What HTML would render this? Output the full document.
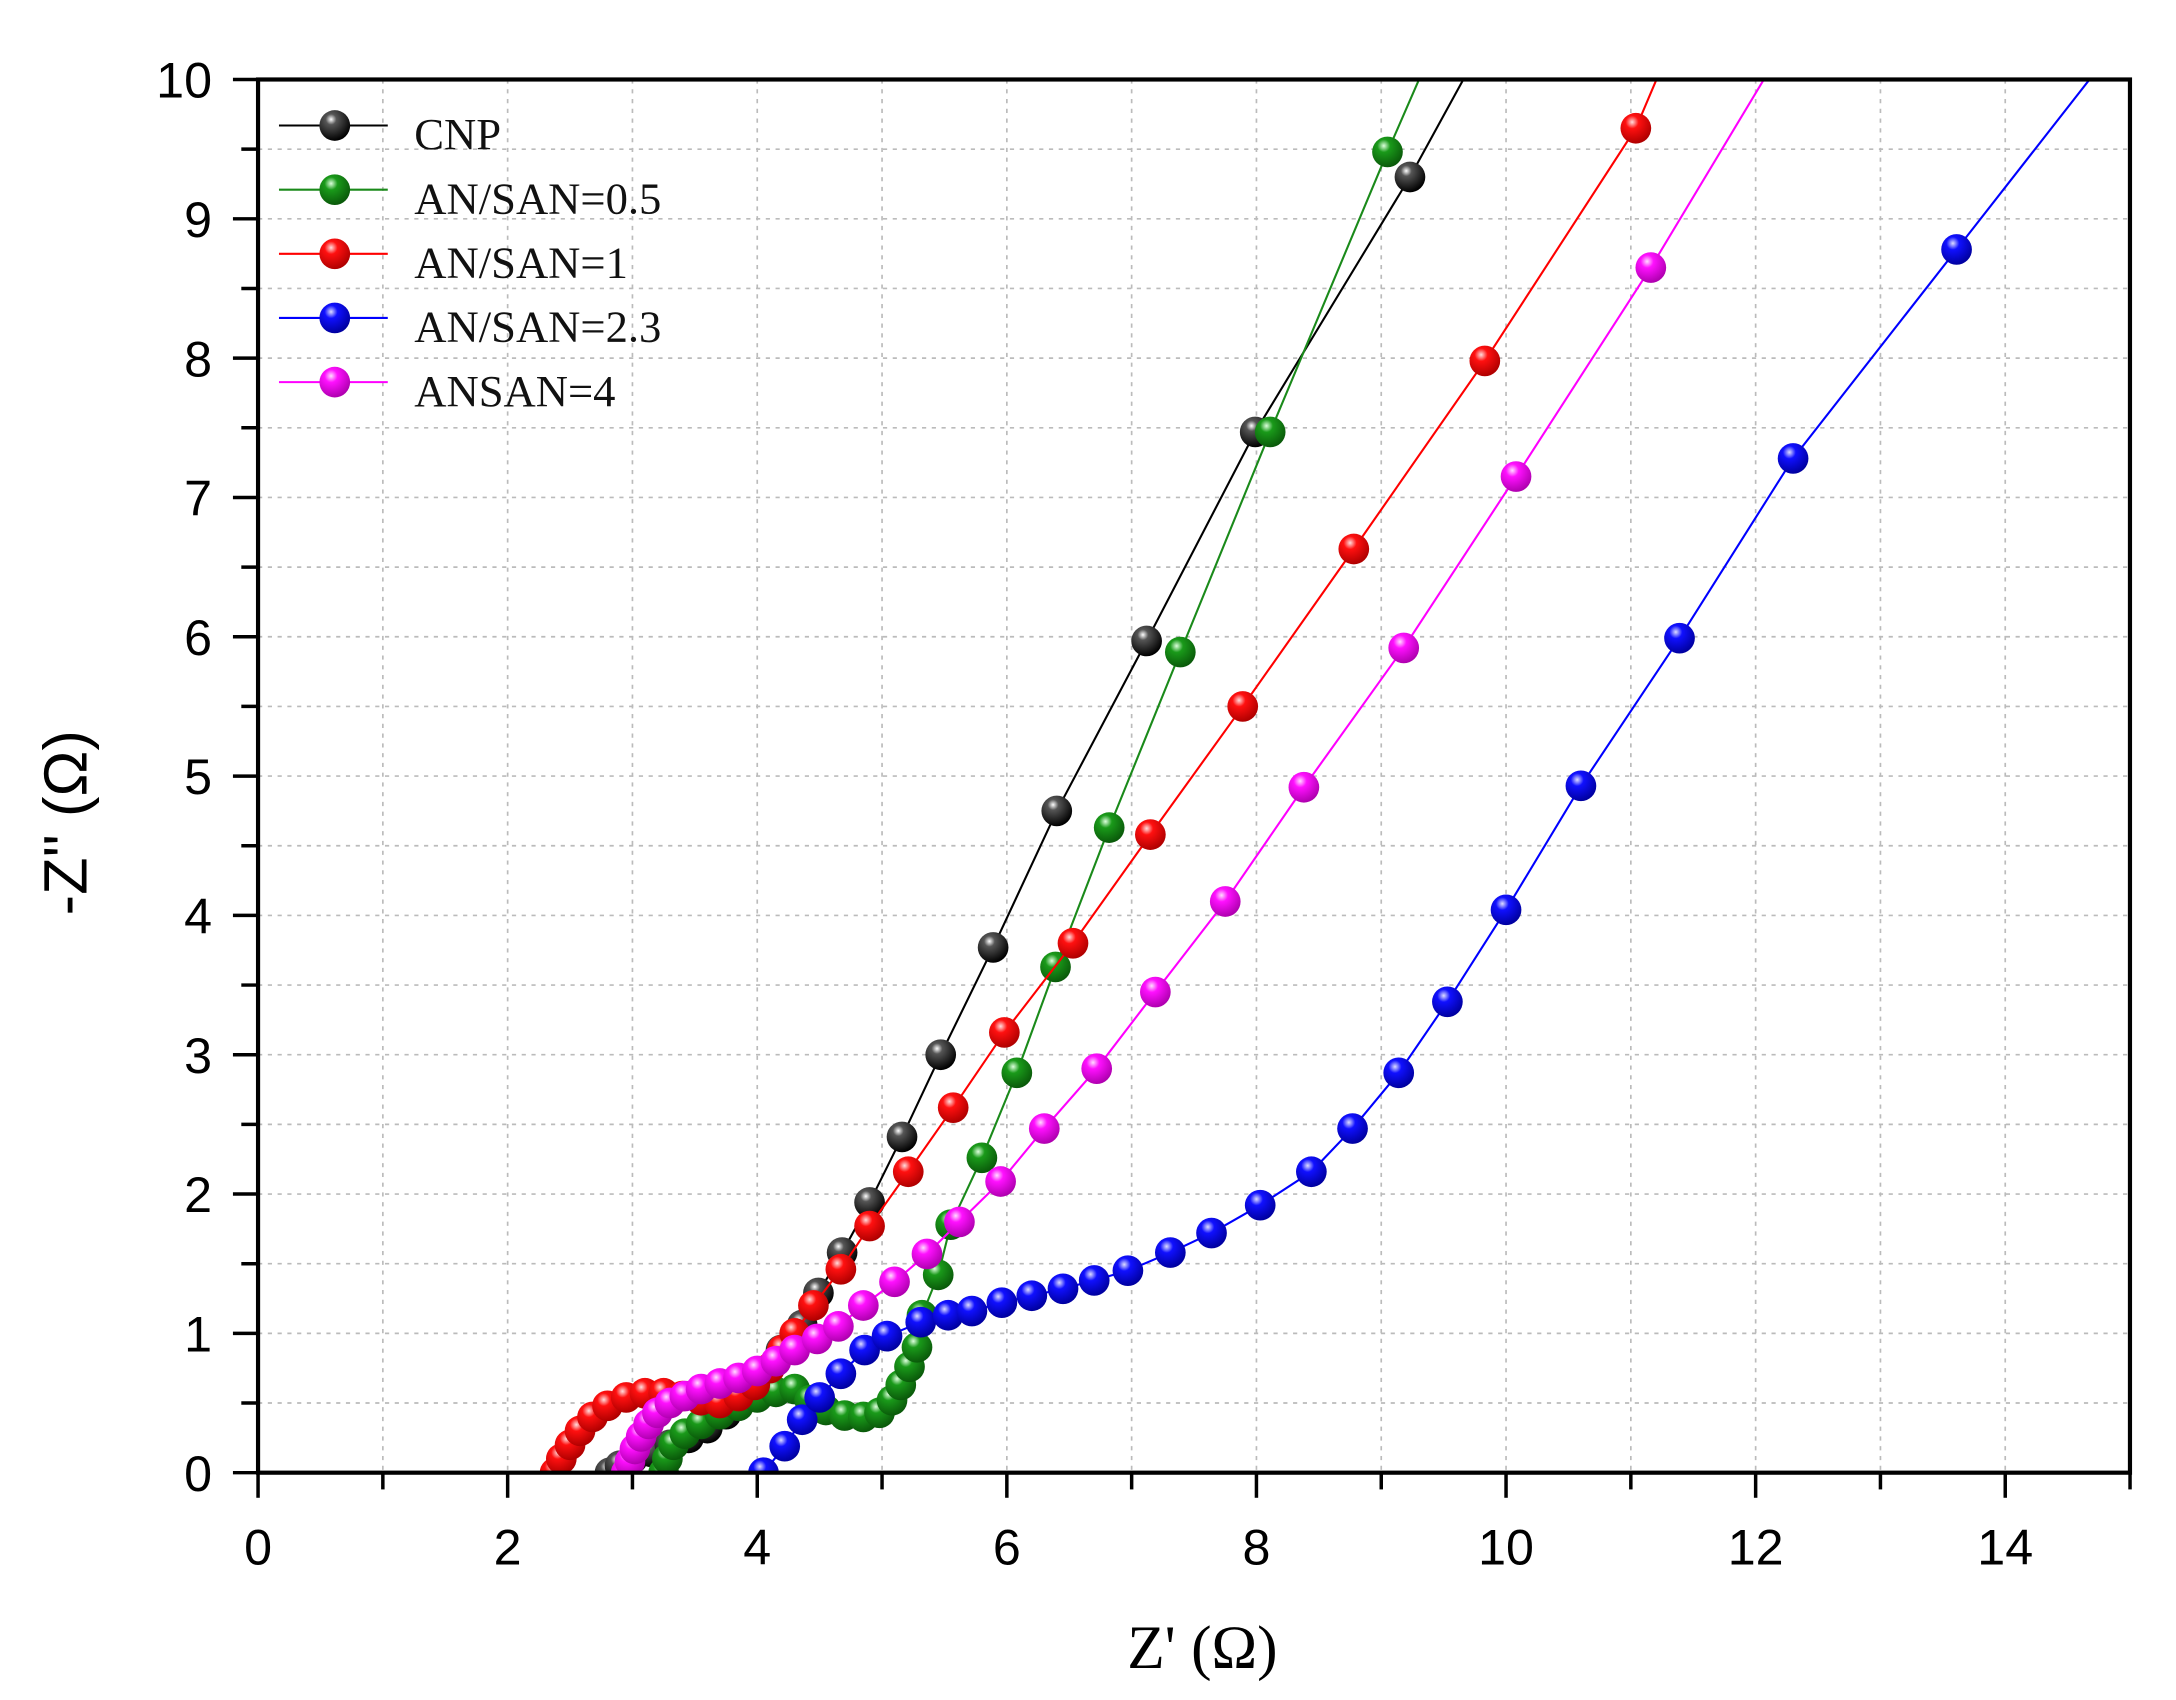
<!DOCTYPE html>
<html><head><meta charset="utf-8"><style>
html,body{margin:0;padding:0;background:#fff;}
svg{display:block;}
</style></head><body>
<svg id="s" width="2176" height="1700" viewBox="0 0 1560 1219" preserveAspectRatio="none" xmlns="http://www.w3.org/2000/svg">
<defs>
<radialGradient id="gk" cx="0.38" cy="0.3" r="0.7"><stop offset="0" stop-color="#fff"/><stop offset="0.25" stop-color="#555"/><stop offset="1" stop-color="#000"/></radialGradient>
<radialGradient id="gg" cx="0.38" cy="0.3" r="0.7"><stop offset="0" stop-color="#dfd"/><stop offset="0.3" stop-color="#1a9a1a"/><stop offset="1" stop-color="#0a5a0a"/></radialGradient>
<radialGradient id="gr" cx="0.38" cy="0.3" r="0.7"><stop offset="0" stop-color="#fdd"/><stop offset="0.3" stop-color="#ff1010"/><stop offset="1" stop-color="#b00000"/></radialGradient>
<radialGradient id="gb" cx="0.38" cy="0.3" r="0.7"><stop offset="0" stop-color="#ddf"/><stop offset="0.3" stop-color="#1010ff"/><stop offset="1" stop-color="#0000a0"/></radialGradient>
<radialGradient id="gm" cx="0.38" cy="0.3" r="0.7"><stop offset="0" stop-color="#fdf"/><stop offset="0.3" stop-color="#ff10ff"/><stop offset="1" stop-color="#b000b0"/></radialGradient>
<clipPath id="cp"><rect x="185" y="57" width="1342" height="999"/></clipPath>
</defs>
<g id="grid" stroke="#bbb" stroke-width="1.2" stroke-dasharray="3,4"></g>
<g id="data" clip-path="url(#cp)"></g>
<g id="axes" stroke="#000" fill="none"></g>
<g id="lbl" font-family="Liberation Sans, sans-serif" font-size="36" fill="#000"></g>
<text x="62" y="590" transform="rotate(-90 62 590)" text-anchor="middle" font-family="Liberation Sans, sans-serif" font-size="44">-Z'' (Ω)</text>
<text x="862" y="1196" text-anchor="middle" font-family="Liberation Serif, serif" font-size="44">Z' (Ω)</text>
<g id="leg" font-family="Liberation Serif, serif" font-size="32" fill="#111"></g>
</svg>
<script>
const NS="http://www.w3.org/2000/svg";
const X=v=>185+v*89.47, Y=v=>1056-v*99.9;
function el(p,t,a,txt){const e=document.createElementNS(NS,t);for(const k in a)e.setAttribute(k,a[k]);if(txt!==undefined)e.textContent=txt;p.appendChild(e);return e;}
const grid=document.getElementById('grid'),axes=document.getElementById('axes'),lbl=document.getElementById('lbl'),data=document.getElementById('data'),leg=document.getElementById('leg');
for(let i=1;i<15;i++)el(grid,'line',{x1:X(i),x2:X(i),y1:57,y2:1056});
for(let j=1;j<20;j++)el(grid,'line',{x1:185,x2:1527,y1:Y(j/2),y2:Y(j/2)});
el(axes,'rect',{x:185,y:57,width:1342,height:999,'stroke-width':3});
for(let i=0;i<=15;i++){el(axes,'line',{x1:X(i),x2:X(i),y1:1056,y2:i%2==0?1074:1068,'stroke-width':2.5});
 if(i%2==0)el(lbl,'text',{x:X(i),y:1122,'text-anchor':'middle'},i);}
for(let j=0;j<=20;j++){const v=j/2;el(axes,'line',{x1:185,x2:j%2==0?167:173,y1:Y(v),y2:Y(v),'stroke-width':2.5});
 if(j%2==0)el(lbl,'text',{x:152,y:Y(v)+13,'text-anchor':'end'},v);}
const S=[
['#000','gk',[[2.82,0],[2.9,0.05],[3.0,0.1],[3.15,0.15],[3.3,0.2],[3.45,0.25],[3.6,0.32],[3.75,0.42],[3.9,0.55],[4.05,0.7],[4.19,0.88],[4.36,1.06],[4.49,1.29],[4.68,1.58],[4.9,1.94],[5.16,2.41],[5.47,3.0],[5.89,3.77],[6.4,4.75],[7.12,5.97],[7.99,7.47],[9.23,9.3],[9.78,10.2]]],
['#1a8a1a','gg',[[3.25,0],[3.28,0.1],[3.33,0.2],[3.42,0.28],[3.55,0.35],[3.7,0.42],[3.85,0.48],[4.0,0.54],[4.15,0.58],[4.3,0.6],[4.42,0.52],[4.55,0.45],[4.7,0.41],[4.85,0.4],[4.98,0.43],[5.08,0.52],[5.15,0.63],[5.22,0.76],[5.28,0.9],[5.32,1.13],[5.45,1.42],[5.55,1.78],[5.8,2.26],[6.08,2.87],[6.39,3.63],[6.82,4.63],[7.39,5.89],[8.11,7.47],[9.05,9.48],[9.4,10.2]]],
['#f00','gr',[[2.38,0],[2.43,0.1],[2.5,0.2],[2.58,0.3],[2.68,0.4],[2.8,0.48],[2.95,0.54],[3.1,0.57],[3.25,0.57],[3.4,0.55],[3.55,0.52],[3.7,0.5],[3.85,0.55],[3.98,0.63],[4.1,0.75],[4.2,0.88],[4.3,1.0],[4.45,1.2],[4.67,1.46],[4.9,1.77],[5.21,2.16],[5.57,2.62],[5.98,3.16],[6.53,3.8],[7.15,4.58],[7.89,5.5],[8.78,6.63],[9.83,7.98],[11.04,9.65],[11.3,10.2]]],
['#00f','gb',[[4.05,0],[4.22,0.19],[4.36,0.38],[4.5,0.54],[4.67,0.71],[4.86,0.88],[5.04,0.98],[5.31,1.08],[5.53,1.13],[5.72,1.16],[5.96,1.22],[6.2,1.27],[6.45,1.32],[6.7,1.38],[6.97,1.45],[7.31,1.58],[7.64,1.72],[8.03,1.92],[8.44,2.16],[8.77,2.47],[9.14,2.87],[9.53,3.38],[10.0,4.04],[10.6,4.93],[11.39,5.99],[12.3,7.28],[13.61,8.78],[14.85,10.2]]],
['#f0f','gm',[[2.95,0],[2.98,0.08],[3.02,0.17],[3.07,0.26],[3.13,0.35],[3.2,0.43],[3.3,0.5],[3.42,0.55],[3.55,0.6],[3.7,0.64],[3.85,0.68],[4.0,0.73],[4.15,0.8],[4.3,0.88],[4.48,0.96],[4.65,1.05],[4.85,1.2],[5.1,1.37],[5.36,1.57],[5.62,1.8],[5.95,2.09],[6.3,2.47],[6.72,2.9],[7.19,3.45],[7.75,4.1],[8.38,4.92],[9.18,5.92],[10.08,7.15],[11.16,8.65],[12.2,10.2]]]];
for(const [c,g,pts] of S){
 el(data,'polyline',{points:pts.map(p=>X(p[0])+','+Y(p[1])).join(' '),fill:'none',stroke:c,'stroke-width':1.5});
 for(const p of pts){ if(p[1]>10)continue; el(data,'circle',{cx:X(p[0]),cy:Y(p[1]),r:11,fill:'url(#'+g+')'});}
}
const names=['CNP','AN/SAN=0.5','AN/SAN=1','AN/SAN=2.3','ANSAN=4'];
S.forEach((s,i)=>{const y=90+i*46;
 el(leg,'line',{x1:200,x2:278,y1:y,y2:y,stroke:s[0],'stroke-width':1.5});
 el(leg,'circle',{cx:240,cy:y,r:11,fill:'url(#'+s[1]+')'});
 el(leg,'text',{x:297,y:y+17},names[i]);});
</script>
</body></html>
